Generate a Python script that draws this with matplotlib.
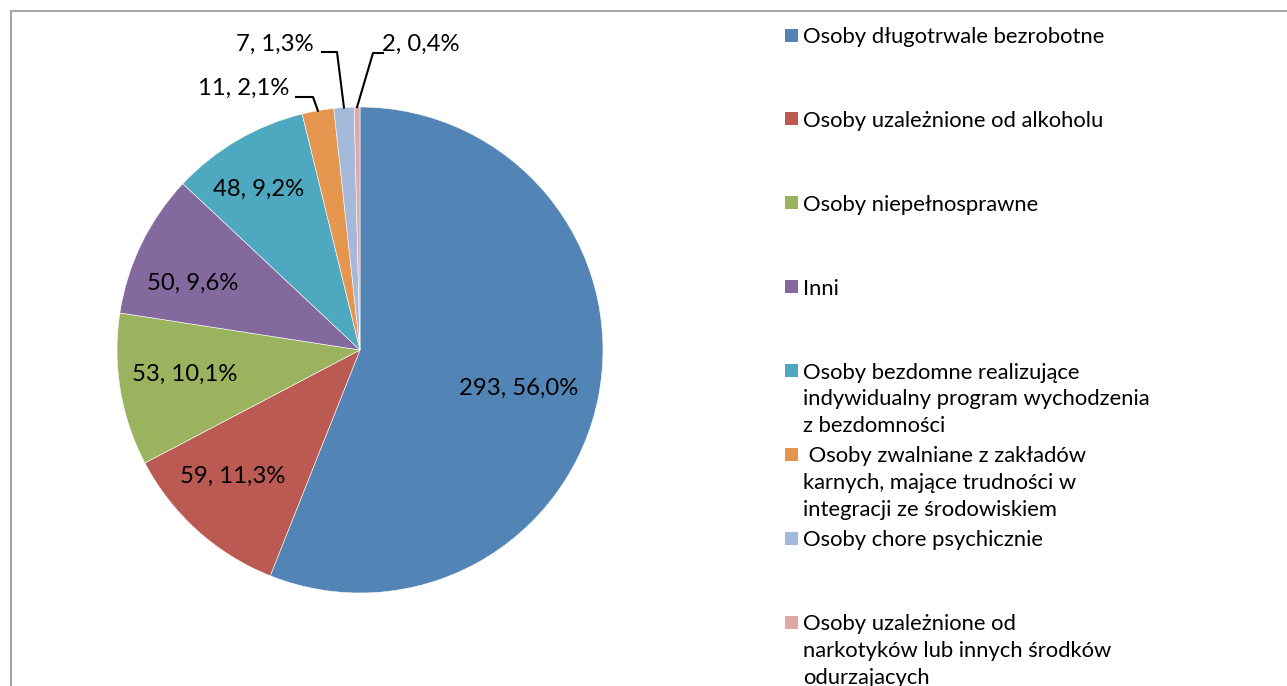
import numpy as np
import matplotlib
matplotlib.use("Agg")
import matplotlib.pyplot as plt
from matplotlib.patches import Rectangle
from matplotlib.lines import Line2D

plt.rcParams['font.family'] = ['Lato', 'DejaVu Sans']

categories = [
    "Osoby długotrwale bezrobotne",
    "Osoby uzależnione od alkoholu",
    "Osoby niepełnosprawne",
    "Inni",
    "Osoby bezdomne realizujące\nindywidualny program wychodzenia\nz bezdomności",
    " Osoby zwalniane z zakładów\nkarnych, mające trudności w\nintegracji ze środowiskiem",
    "Osoby chore psychicznie",
    "Osoby uzależnione od\nnarkotyków lub innych środków\nodurzajacych",
]
values = [293, 59, 53, 50, 48, 11, 7, 2]
colors = ['#5384B6', '#BA5A52', '#9BB35F', '#83699D',
          '#4EA8BF', '#E4964F', '#A4B8D9', '#DFA7A5']

W, H = 1287, 686
fig = plt.figure(figsize=(W / 100, H / 100), dpi=100)

# chart frame (grey border, cut off at right and bottom)
fig.add_artist(Line2D([11 / W, 11 / W], [0, 1 - 11 / H],
                      transform=fig.transFigure, color='#A6A6A6', lw=1.5))
fig.add_artist(Line2D([11 / W, 1], [1 - 11 / H, 1 - 11 / H],
                      transform=fig.transFigure, color='#A6A6A6', lw=1.5))

# pie axes: centre (360, 350) px, radius 243 px
cx, cy, r = 360, 350, 243
ax = fig.add_axes([(cx - r) / W, (H - cy - r) / H, 2 * r / W, 2 * r / H])
wedges, _ = ax.pie(values, colors=colors, startangle=90, counterclock=False,
                   radius=1.0, wedgeprops=dict(edgecolor='white', linewidth=0.4))
ax.set_xlim(-1, 1)
ax.set_ylim(-1, 1)
ax.set_aspect('equal')
ax.axis('off')

total = sum(values)
labels = ["%d, %s%%" % (v, ("%.1f" % (100.0 * v / total)).replace('.', ','))
          for v in values]

def px(x, y):
    # pixel position -> data coords of pie axes
    return (x - cx) / r, (cy - y) / r

fs = 17.2
# labels inside the big slices (pixel centres)
inside = {0: (519, 388), 1: (233, 476), 2: (185, 374), 3: (193, 283), 4: (259, 189)}
for i, (x, y) in inside.items():
    ax.text(*px(x, y), labels[i], ha='center', va='center', fontsize=fs,
            color='black')

# small slices with leader lines: label anchor, elbow
outside = {
    5: dict(text=(289, 88), ha='right', elbow=[(296, 97), (313, 97)]),
    6: dict(text=(314, 44), ha='right', elbow=[(322, 52), (337, 52)]),
    7: dict(text=(382, 44), ha='left', elbow=[(383, 53), (373, 53)]),
}
for i, o in outside.items():
    w = wedges[i]
    mid = np.deg2rad((w.theta1 + w.theta2) / 2.0)
    ex, ey = np.cos(mid), np.sin(mid)
    pts = [px(*p) for p in o['elbow']] + [(ex, ey)]
    xs, ys = zip(*pts)
    ax.plot(xs, ys, color='black', lw=1.5, clip_on=False)
    ax.text(*px(*o['text']), labels[i], ha=o['ha'], va='center',
            fontsize=fs, color='black')

# legend drawn by hand: fixed step between entries
ly0, step = 35, 83.9
for i, (lab, c) in enumerate(zip(categories, colors)):
    y = ly0 + i * step
    fig.add_artist(Rectangle((785 / W, 1 - (y + 6.5) / H), 13 / W, 13 / H,
                             transform=fig.transFigure, facecolor=c,
                             edgecolor='none'))
    fig.text(803 / W, 1 - (y - 8) / H, lab, ha='left', va='top',
             fontsize=15.8, linespacing=1.42, color='black')

fig.savefig("out.png", dpi=100)
